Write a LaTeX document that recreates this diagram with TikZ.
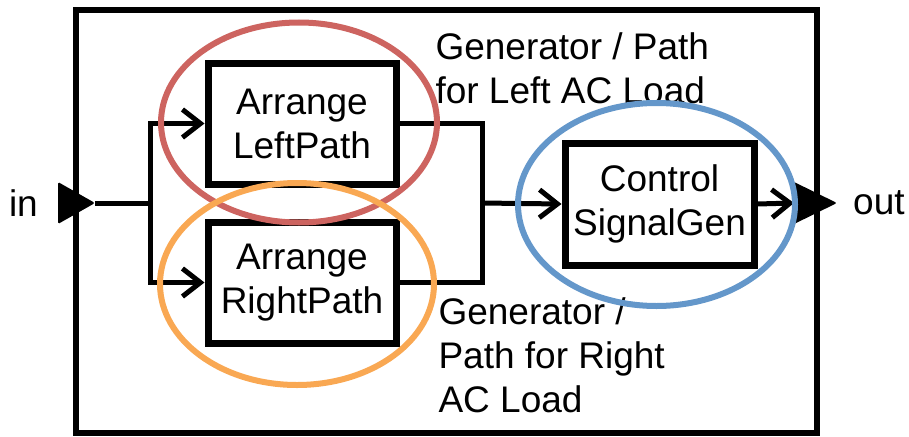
\documentclass[tikz,border=0pt]{standalone}
\usepackage{fontspec}
\setmainfont{Liberation Sans}
\usepackage{tikz}
\usetikzlibrary{arrows.meta,positioning,calc}
\definecolor{MarkRed}{HTML}{CD6460}
\definecolor{MarkOrange}{HTML}{F9A853}
\definecolor{MarkBlue}{HTML}{6497CA}

\begin{document}
\begin{tikzpicture}[x=1pt,y=-1pt,>={Straight Barb[length=18pt,width=28pt,line width=5pt]},
  font=\fontsize{37}{44}\selectfont]
\useasboundingbox (0,0) rectangle (909,436);
\draw[line width=6pt] (76,10) rectangle (817,433);
\node[draw,line width=7pt,minimum width=188pt,minimum height=121pt,align=center] (lbox) at (302,123.5) {Arrange\\LeftPath};
\node[draw,line width=7pt,minimum width=188pt,minimum height=121pt,align=center] (rbox) at (302,282.5) {Arrange\\RightPath};
\node[draw,line width=7pt,minimum width=189pt,minimum height=122pt,align=center] (ctrl) at (659.5,204) {Control\\SignalGen};
\coordinate (inport) at (95,203);
\coordinate (outport) at (794,203);
\coordinate (fork) at (150,203);
\coordinate (join) at (482,203);
\fill[rounded corners=1.5pt] (inport) -- ++(-37,-21) -- ++(0,42) -- cycle;
\fill[rounded corners=1.5pt] (outport) -- ++(0,-21) -- ++(43,21) -- ++(-43,21) -- cycle;
\node[inner sep=0pt,left=20pt of inport,xshift=-37pt] (inlbl) {in};
\node[inner sep=0pt,right=16pt of outport,xshift=43pt] (outlbl) {out};
\node[anchor=base west,align=left] (ltxt) at (432,103) {Generator / Path\\for Left AC Load};
\node[anchor=base west,align=left] (rtxt) at (435,412) {Generator /\\Path for Right\\AC Load};
\draw[line width=5pt] (inport) -- (fork);
\draw[->,line width=5pt] (fork) |- (lbox.west);
\draw[->,line width=5pt] (fork) |- (rbox.west);
\draw[line width=5pt] (lbox.east) -| (join);
\draw[line width=5pt] (rbox.east) -| (join);
\draw[->,line width=5pt] (join) -- (ctrl.west);
\draw[->,line width=5pt] (ctrl.east) -- (outport);
% highlight rings
\draw[MarkRed,line width=6pt] (299,122.5) ellipse [x radius=138, y radius=100];
\draw[MarkOrange,line width=6pt] (297,284) ellipse [x radius=137, y radius=101];
\draw[MarkBlue,line width=6pt] (656.5,204.5) ellipse [x radius=138.5, y radius=101.5];
\end{tikzpicture}
\end{document}
